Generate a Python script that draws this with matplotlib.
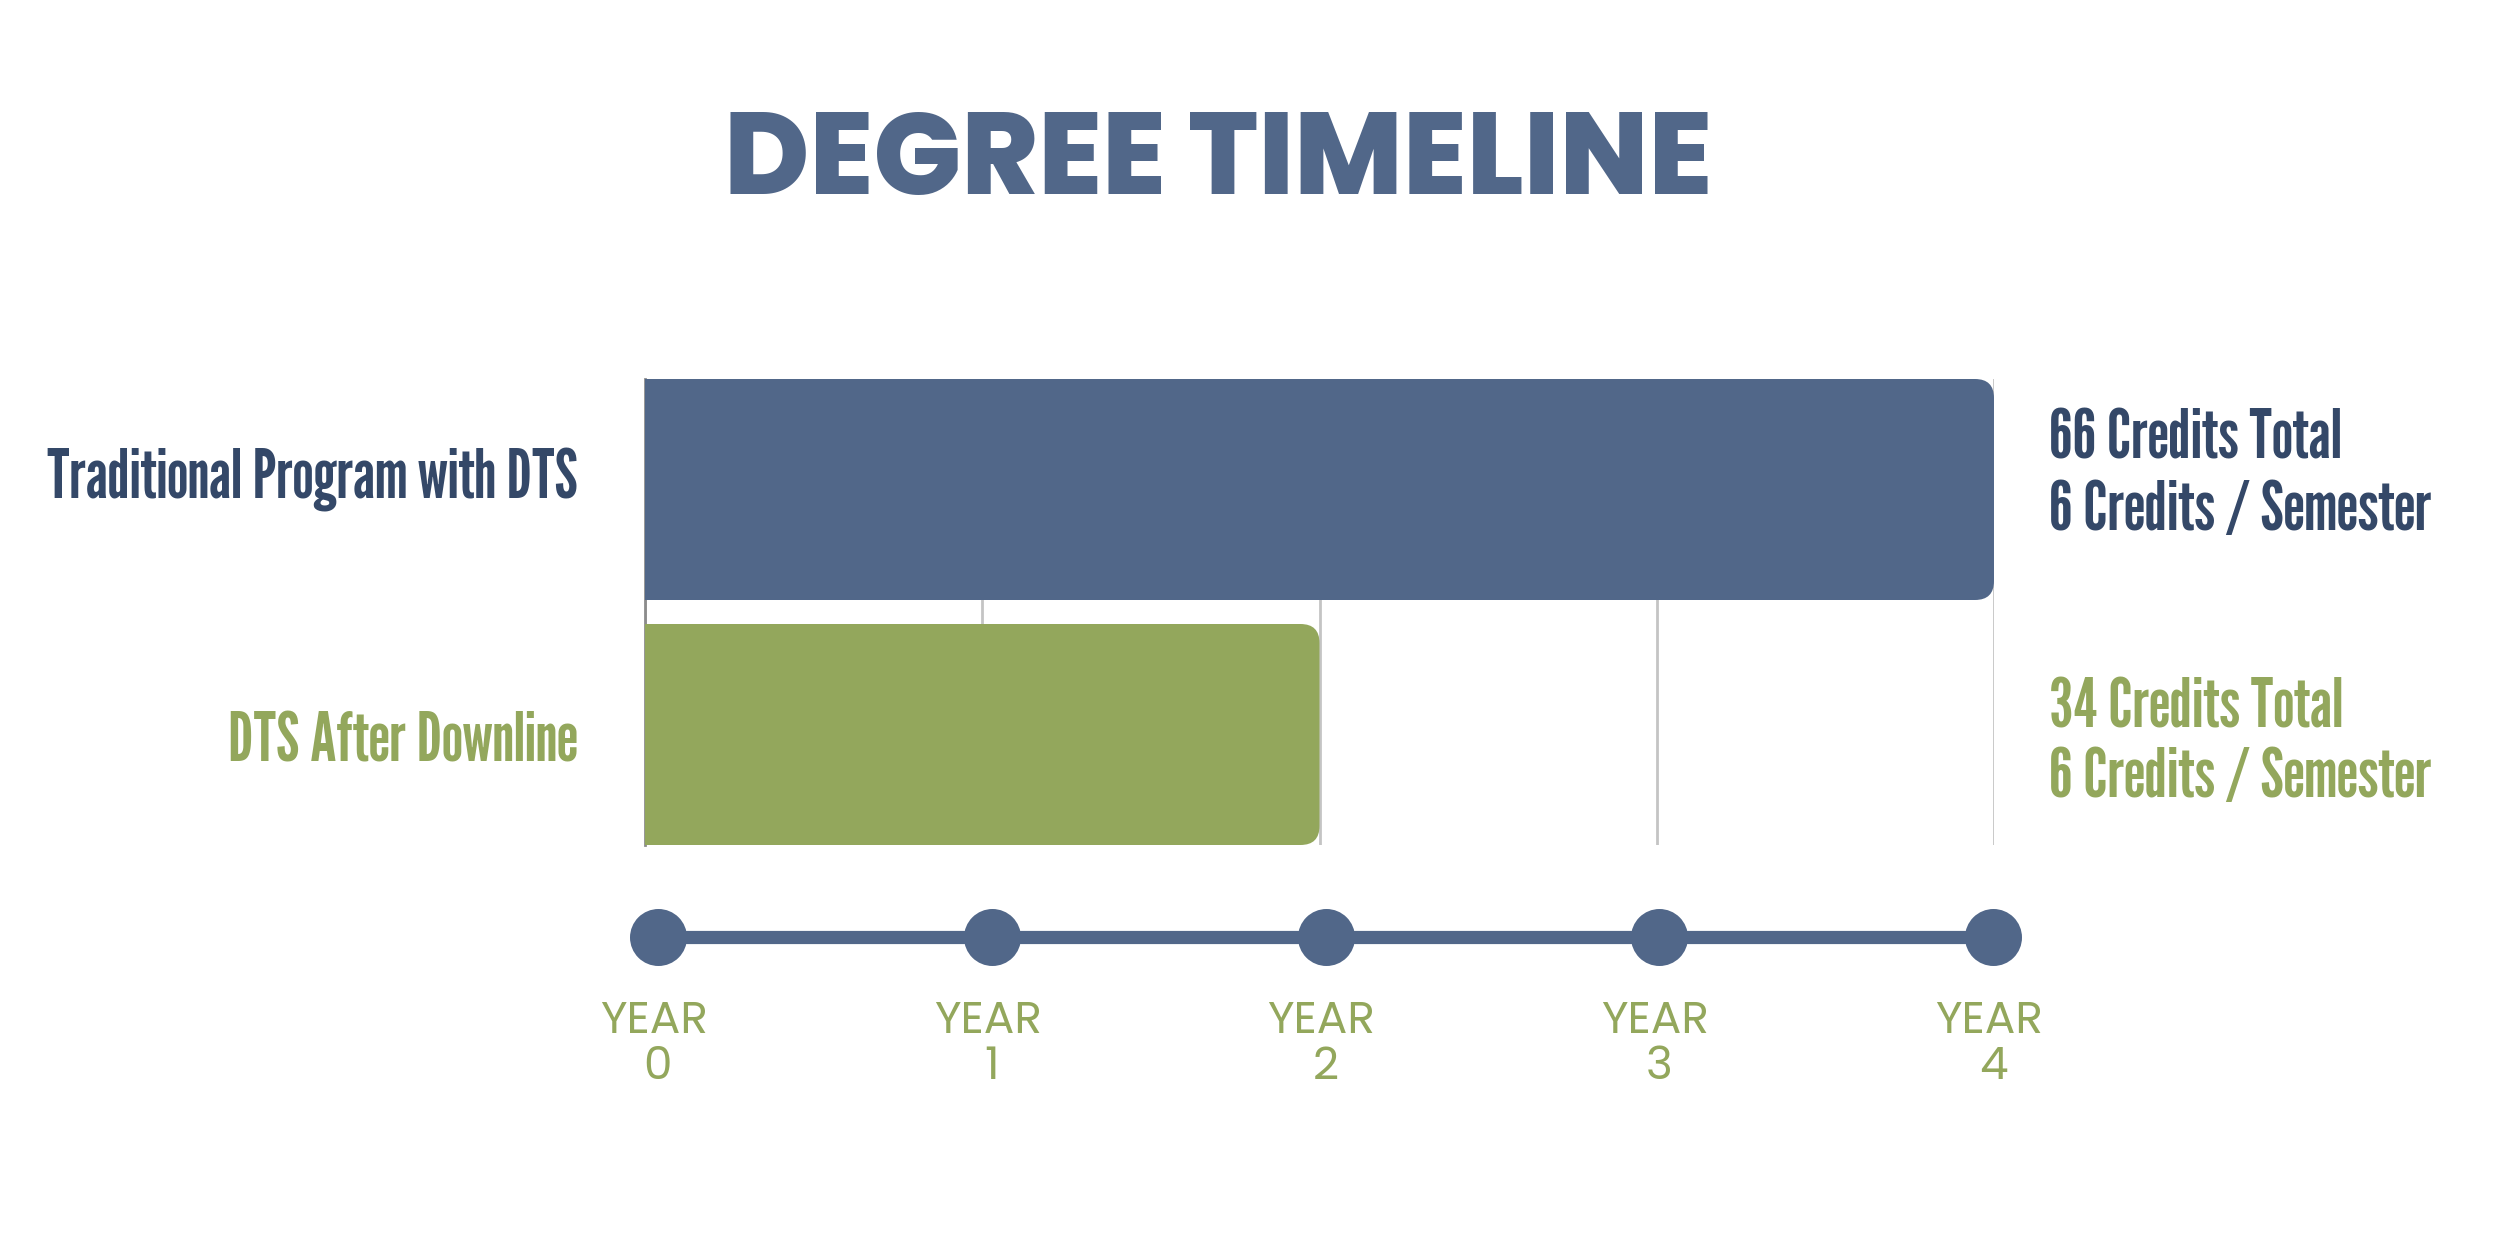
import matplotlib
matplotlib.use("Agg")
import matplotlib.pyplot as plt
from matplotlib.patches import FancyBboxPatch

# data
programs = ["Traditional Program with DTS", "DTS After Downline"]
years_needed = [4, 2]
total_credits = [66, 34]
credits_per_semester = [6, 6]
year_ticks = [0, 1, 2, 3, 4]

BLUE = "#516789"
NAVY = "#344868"
GREEN = "#93A75C"
GRID = "#C4C4C4"

COND = ["League Gothic", "Oswald", "Barlow Condensed", "DejaVu Sans"]
TITLE_FONT = ["Poppins", "Archivo Black", "DejaVu Sans"]
YEAR_FONT = ["Poppins", "Lato", "DejaVu Sans"]

W, H = 2500, 1250
fig = plt.figure(figsize=(25, 12.5), dpi=100)
fig.patch.set_facecolor("white")
renderer = fig.canvas.get_renderer()


def px(x, y):
    return x / W, 1 - y / H


def fit_width(t, target):
    # scale font so the text spans the same width as in the reference
    w = t.get_window_extent(renderer).width
    t.set_fontsize(t.get_fontsize() * target / w)


# bar chart area
left, right, top, bottom = 645, 1994, 379, 845
ax = fig.add_axes([left / W, 1 - bottom / H, (right - left) / W, (bottom - top) / H])
ax.set_xlim(0, 4)
bar_h = 221 / 245
ax.set_ylim(-bar_h / 2, 1 + bar_h / 2)
ax.set_xticks(year_ticks)
ax.grid(axis="x", color=GRID, linewidth=2, zorder=0)
ax.set_axisbelow(True)
ax.tick_params(left=False, bottom=False, labelleft=False, labelbottom=False)
for s in ["top", "right", "bottom"]:
    ax.spines[s].set_visible(False)
ax.spines["left"].set_color("#8C8C8C")
ax.spines["left"].set_linewidth(2)

colors = [BLUE, GREEN]
ypos = [1, 0]
xscale = (right - left) / 4
yscale = 245
r_px = 19
for i, (yrs, c) in enumerate(zip(years_needed, colors)):
    y0 = ypos[i] - bar_h / 2
    box = FancyBboxPatch((0, y0), yrs, bar_h,
                         boxstyle=f"round,pad=0,rounding_size={r_px / xscale}",
                         mutation_aspect=xscale / yscale,
                         facecolor=c, edgecolor="none", zorder=3)
    ax.add_patch(box)
    ax.barh(ypos[i], yrs / 2, height=bar_h, left=0, color=c, zorder=3)

# left labels
label_base = [499, 762]
label_w = [529, 349]
for name, c, yb, tw in zip(programs, [NAVY, GREEN], label_base, label_w):
    t = fig.text(*px(578, yb), name, ha="right", va="baseline", color=c,
                 fontsize=40, fontweight="bold", family=COND)
    fit_width(t, tw)

# right labels
right_base = [(458, 530), (727, 797)]
for tot, per, c, (y1, y2) in zip(total_credits, credits_per_semester, [NAVY, GREEN], right_base):
    t1 = fig.text(*px(2049, y1), f"{tot} Credits Total", ha="left", va="baseline", color=c,
                  fontsize=40, fontweight="bold", family=COND)
    t2 = fig.text(*px(2049, y2), f"{per} Credits / Semester", ha="left", va="baseline", color=c,
                  fontsize=40, fontweight="bold", family=COND)
    fit_width(t2, 381)
    t1.set_fontsize(t2.get_fontsize())

# timeline
t_left, t_right, t_y = 658, 1993, 937
tax = fig.add_axes([t_left / W, 1 - (t_y + 60) / H, (t_right - t_left) / W, 120 / H])
tax.set_xlim(0, 4)
tax.set_ylim(-1, 1)
tax.axis("off")
tax.plot([year_ticks[0], year_ticks[-1]], [0, 0], color=BLUE, linewidth=9.5,
         solid_capstyle="butt", zorder=1, clip_on=False)
tax.scatter(year_ticks, [0] * len(year_ticks), s=(57 * 0.72) ** 2, color=BLUE,
            zorder=2, clip_on=False, linewidths=0)
for yr in year_ticks:
    xf = (t_left + yr * (t_right - t_left) / 4) / W
    ty = fig.text(xf - 4 / W, 1 - 1033 / H, "YEAR", ha="center", va="baseline",
                  color=GREEN, fontsize=29, family=YEAR_FONT, fontweight="normal")
    fit_width(ty, 108)
    fig.text(xf, 1 - 1079 / H, str(yr), ha="center", va="baseline",
             color=GREEN, fontsize=ty.get_fontsize(), family=YEAR_FONT, fontweight="normal")

# title
tt = fig.text(*px(1218, 194), "DEGREE TIMELINE", ha="center", va="baseline",
              color=BLUE, fontsize=70, fontweight="heavy", family=TITLE_FONT)
fit_width(tt, 990)

fig.savefig("out.png", dpi=100, facecolor="white")
